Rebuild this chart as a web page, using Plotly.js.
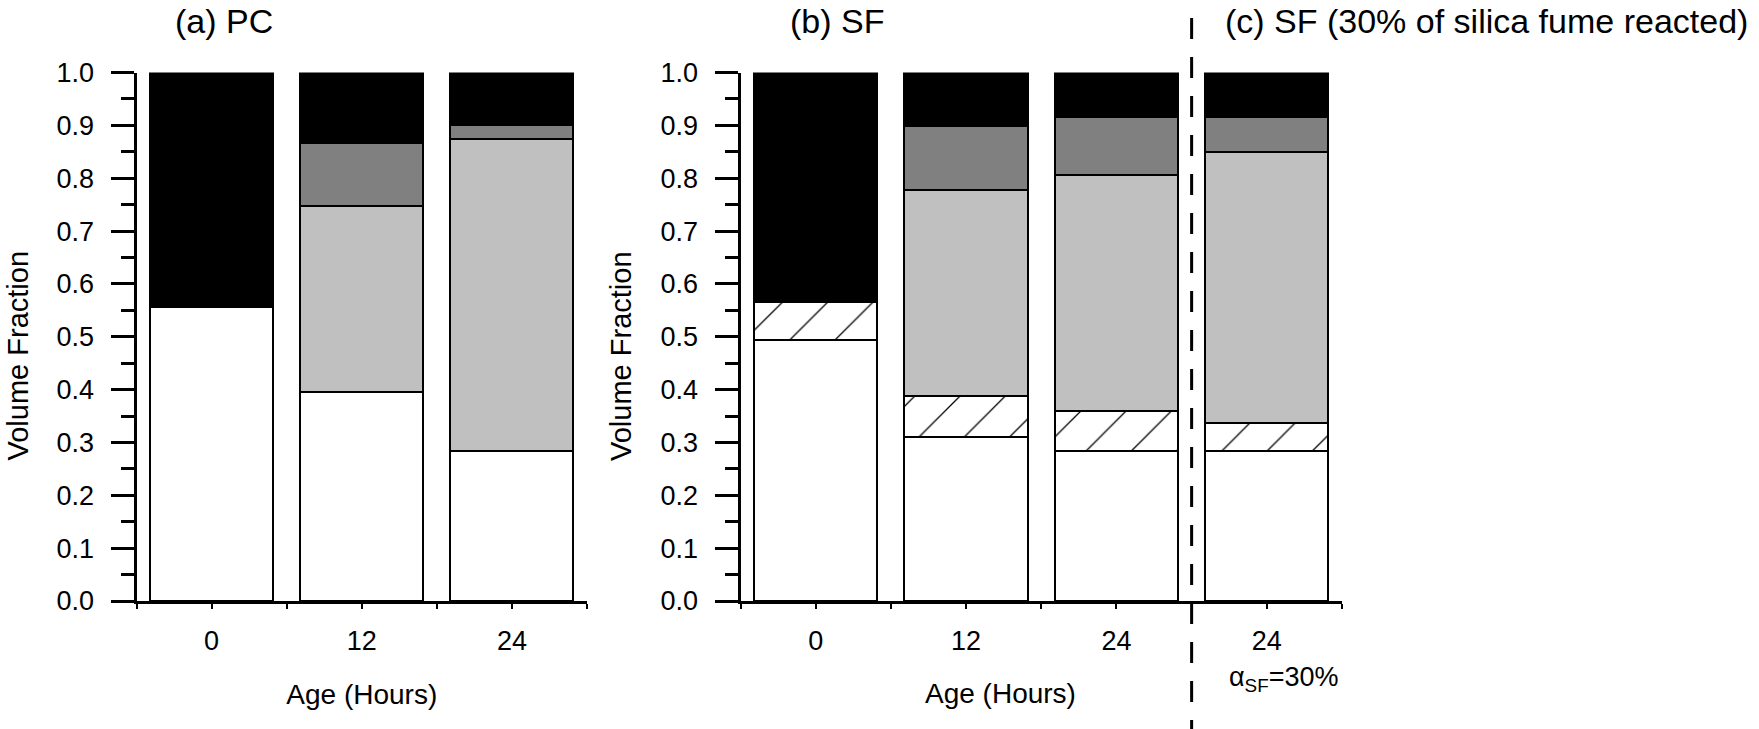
<!DOCTYPE html>
<html>
<head>
<meta charset="utf-8">
<script src="https://cdn.plot.ly/plotly-3.0.1.min.js"></script>
<style>
  html, body { margin: 0; padding: 0; background: #ffffff; }
  #chart { width: 1759px; height: 729px; }
</style>
</head>
<body>
<div id="chart"></div>
<script>
// ---- Data ----
const pcAges = ['0', '12', '24'];
const sfAges = ['0', '12', '24', '24'];

// Segment thicknesses, bottom to top
const pcWhite     = [0.557, 0.395, 0.283];
const pcLightGray = [0.000, 0.352, 0.592];
const pcDarkGray  = [0.000, 0.119, 0.026];
const pcBlack     = [0.443, 0.134, 0.099];

const sfWhite     = [0.493, 0.311, 0.283, 0.283];
const sfHatched   = [0.073, 0.077, 0.077, 0.054];
const sfLightGray = [0.000, 0.389, 0.447, 0.513];
const sfDarkGray  = [0.000, 0.122, 0.108, 0.066];
const sfBlack     = [0.434, 0.101, 0.085, 0.084];

const panelTitles = ['(a) PC', '(b) SF', '(c) SF (30% of silica fume reacted)'];
const xTitle = 'Age (Hours)';
const yTitle = 'Volume Fraction';
const reactedNote = 'α<sub>SF</sub>=30%';

// ---- Chart ----
const FONT = 'Liberation Sans, Arial, Helvetica, sans-serif';
const W = 1759, H = 729;

function bar(name, cats, vals, color, xa, ya, hatched) {
  const marker = { color: color, line: { color: '#000000', width: 2 } };
  if (hatched) {
    marker.color = '#ffffff';
    marker.pattern = { shape: '/', bgcolor: '#ffffff', fgcolor: '#000000', size: 32, solidity: 0.04, fillmode: 'replace' };
  }
  return {
    type: 'bar', name: name,
    x: cats.map((_, i) => i), y: vals,
    xaxis: xa, yaxis: ya, width: 0.82,
    marker: marker, showlegend: false, hoverinfo: 'y'
  };
}

const traces = [
  bar('Unreacted cement', pcAges, pcWhite, '#ffffff', 'x', 'y'),
  bar('Hydration products', pcAges, pcLightGray, '#c0c0c0', 'x', 'y'),
  bar('Calcium hydroxide', pcAges, pcDarkGray, '#808080', 'x', 'y'),
  bar('Pores / water', pcAges, pcBlack, '#000000', 'x', 'y'),

  bar('Unreacted cement', sfAges, sfWhite, '#ffffff', 'x2', 'y2'),
  bar('Silica fume', sfAges, sfHatched, '#ffffff', 'x2', 'y2', true),
  bar('Hydration products', sfAges, sfLightGray, '#c0c0c0', 'x2', 'y2'),
  bar('Calcium hydroxide', sfAges, sfDarkGray, '#808080', 'x2', 'y2'),
  bar('Pores / water', sfAges, sfBlack, '#000000', 'x2', 'y2')
];

const yDomain = [(H - 601) / H, (H - 72.5) / H];

function yAxis(anchor) {
  return {
    anchor: anchor, domain: yDomain, range: [0, 1],
    tickmode: 'linear', tick0: 0, dtick: 0.1, tickformat: '.1f',
    ticks: 'outside', ticklen: 23, tickwidth: 3, tickcolor: '#000000',
    ticklabelstandoff: 11,
    minor: { tickmode: 'linear', tick0: 0, dtick: 0.05, ticks: 'outside', ticklen: 13, tickwidth: 3, tickcolor: '#000000' },
    showline: true, linewidth: 3, linecolor: '#000000',
    showgrid: false, zeroline: false, fixedrange: true,
    tickfont: { family: FONT, size: 27, color: '#000000' }
  };
}

function xAxis(anchor, domainPx, cats, withTitle) {
  const ax = {
    anchor: anchor, domain: [domainPx[0] / W, domainPx[1] / W],
    range: [-0.5, cats.length - 0.5],
    tickmode: 'array', tickvals: cats.map((_, i) => i), ticktext: cats,
    ticks: 'outside', ticklen: 5, tickwidth: 2, tickcolor: '#000000',
    ticklabelstandoff: 9,
    minor: { tickmode: 'linear', tick0: 0.5, dtick: 1, ticks: 'outside', ticklen: 5, tickwidth: 2, tickcolor: '#000000' },
    showline: true, linewidth: 3, linecolor: '#000000',
    showgrid: false, zeroline: false, fixedrange: true,
    tickfont: { family: FONT, size: 27, color: '#000000' }
  };
  if (withTitle) {
    ax.title = { text: xTitle, font: { family: FONT, size: 28, color: '#000000' }, standoff: 29 };
  }
  return ax;
}

const titleFont = { family: FONT, size: 34, color: '#000000' };
const titleY = (H - 21) / H;
const yTitleFont = { family: FONT, size: 29, color: '#000000' };
const yTitleY = (H - 356) / H;

const layout = {
  width: W, height: H,
  margin: { l: 0, r: 0, t: 0, b: 0, pad: 0 },
  paper_bgcolor: '#ffffff', plot_bgcolor: '#ffffff',
  barmode: 'stack',
  font: { family: FONT, color: '#000000' },
  xaxis: xAxis('y', [136.5, 587], pcAges, true),
  yaxis: yAxis('x'),
  xaxis2: xAxis('y2', [740.5, 1342], sfAges, false),
  yaxis2: yAxis('x2'),
  shapes: [{
    type: 'line', xref: 'x2', yref: 'paper',
    x0: sfAges.length - 1.5, x1: sfAges.length - 1.5,
    y0: (H - 18) / H, y1: 0,
    line: { color: '#000000', width: 3, dash: '21px,18px' },
    layer: 'above'
  }],
  annotations: [
    { text: panelTitles[0], xref: 'paper', yref: 'paper', x: 224 / W, y: titleY, xanchor: 'center', yanchor: 'middle', showarrow: false, font: titleFont },
    { text: panelTitles[1], xref: 'paper', yref: 'paper', x: 837 / W, y: titleY, xanchor: 'center', yanchor: 'middle', showarrow: false, font: titleFont },
    { text: panelTitles[2], xref: 'paper', yref: 'paper', x: 1486 / W, y: titleY, xanchor: 'center', yanchor: 'middle', showarrow: false, font: titleFont },
    { text: yTitle, xref: 'paper', yref: 'paper', x: 17.5 / W, y: yTitleY, xanchor: 'center', yanchor: 'middle', textangle: -90, showarrow: false, font: yTitleFont },
    { text: yTitle, xref: 'paper', yref: 'paper', x: 621 / W, y: yTitleY, xanchor: 'center', yanchor: 'middle', textangle: -90, showarrow: false, font: yTitleFont },
    { text: xTitle, xref: 'paper', yref: 'paper', x: 1001 / W, y: (H - 693) / H, xanchor: 'center', yanchor: 'middle', showarrow: false, font: { family: FONT, size: 28, color: '#000000' } },
    { text: reactedNote, xref: 'x2', yref: 'paper', x: sfAges.length - 1, xshift: 17, y: (H - 679) / H, xanchor: 'center', yanchor: 'middle', showarrow: false, font: { family: FONT, size: 27, color: '#000000' } }
  ]
};

Plotly.newPlot('chart', traces, layout, { displayModeBar: false, staticPlot: true });
</script>
</body>
</html>
